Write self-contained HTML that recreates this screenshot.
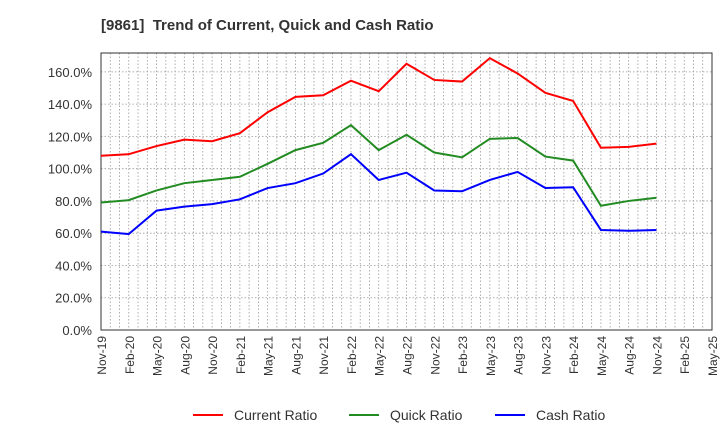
<!DOCTYPE html>
<html><head><meta charset="utf-8"><style>
body{margin:0;background:#fff;font-family:"Liberation Sans",sans-serif}
</style></head><body>
<svg id="c" width="720" height="440" xmlns="http://www.w3.org/2000/svg" font-family="Liberation Sans, sans-serif"></svg>
<script>
const categories=["Nov-19","Feb-20","May-20","Aug-20","Nov-20","Feb-21","May-21","Aug-21","Nov-21","Feb-22","May-22","Aug-22","Nov-22","Feb-23","May-23","Aug-23","Nov-23","Feb-24","May-24","Aug-24","Nov-24","Feb-25","May-25"];
const currentRatio=[108,109,114,118,117,122,135,144.5,145.5,154.5,148,165,155,154,168.5,159,147,142,113,113.5,115.5];
const quickRatio=[79,80.5,86.5,91,93,95,103,111.5,116,127,111.5,121,110,107,118.5,119,107.5,105,77,80,82];
const cashRatio=[61,59.5,74,76.5,78,81,88,91,97,109,93,97.5,86.5,86,93,98,88,88.5,62,61.5,62];
const yTicks=[0,20,40,60,80,100,120,140,160];
const L=101,R=712,T=53,B=330,YMAX=171.7;
const svg=document.getElementById('c');const NS="http://www.w3.org/2000/svg";
const x=i=>L+(R-L)*i/(categories.length-1);
const y=v=>B-(B-T)*v/YMAX;
function el(t,a,p){const e=document.createElementNS(NS,t);for(const k in a)e.setAttribute(k,a[k]);(p||svg).appendChild(e);return e;}
const title=el('text',{x:101,y:30,'font-size':15,'font-weight':'bold',fill:'#333'});


title.textContent="[9861]\u00a0 Trend of Current, Quick and Cash Ratio";
const grid=el('g',{stroke:'#999','stroke-width':0.8,'stroke-dasharray':'1.5,2'});


for(let m=1;m<(categories.length-1)*3;m++){const xx=L+(R-L)*m/((categories.length-1)*3);el('line',{x1:xx,x2:xx,y1:T,y2:B},grid);}
yTicks.forEach(v=>{if(v>0)el('line',{x1:L,x2:R,y1:y(v),y2:y(v)},grid);
const t=el('text',{x:92,y:y(v)+5,'font-size':13,fill:'#333','text-anchor':'end'});


t.textContent=v.toFixed(1)+'%';});
categories.forEach((c,i)=>{const t=el('text',{transform:`translate(${x(i)+5},${B+6}) rotate(-90)`,'font-size':12,fill:'#333','text-anchor':'end'});


t.textContent=c;});
const fr=el('rect',{x:L,y:T,width:R-L,height:B-T,fill:'none',stroke:'#333','stroke-width':1});


const series=[[currentRatio,'#ff0000','current-ratio-line','Current Ratio',193],[quickRatio,'#228b22','quick-ratio-line','Quick Ratio',349],[cashRatio,'#0000ff','cash-ratio-line','Cash Ratio',495]];
series.forEach(([d,col,nm,lab,lx])=>{
const p=el('polyline',{points:d.map((v,i)=>x(i)+','+y(v)).join(' '),fill:'none',stroke:col,'stroke-width':2});


const g=el('g',{});


el('line',{x1:lx,x2:lx+30,y1:415,y2:415,stroke:col,'stroke-width':2},g);
const t=el('text',{x:lx+41,y:420,'font-size':14,fill:'#333'},g);t.textContent=lab;});
</script>
</body></html>
